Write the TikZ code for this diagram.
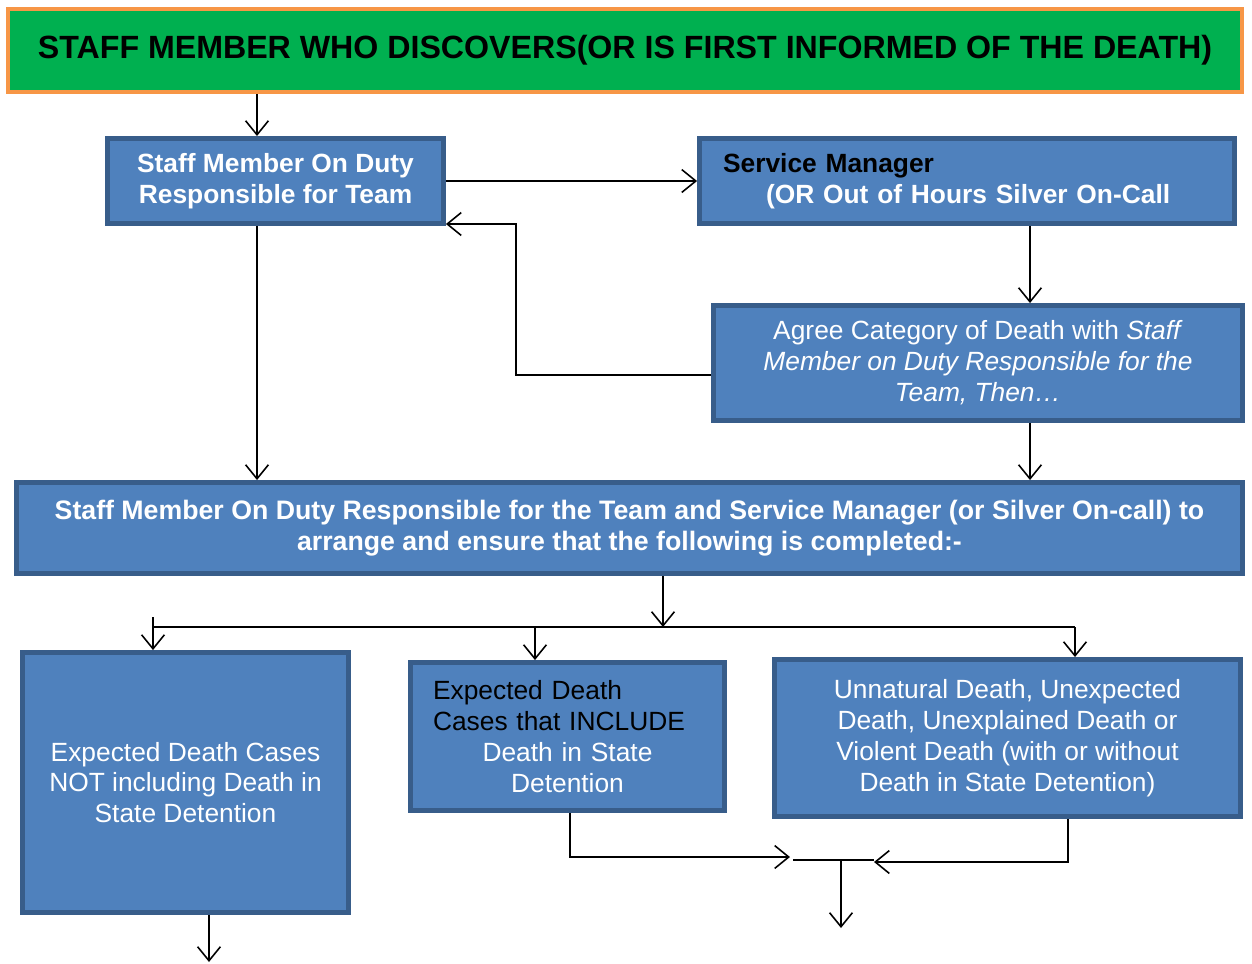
\documentclass[tikz,border=0pt]{standalone}
\usepackage{fontspec}
\setmainfont{Liberation Sans}
\usetikzlibrary{arrows.meta}
\definecolor{boxblue}{HTML}{4F81BD}
\definecolor{boxedge}{HTML}{385D8A}
\definecolor{headgreen}{HTML}{00B050}
\definecolor{headedge}{HTML}{F79646}
\tikzstyle{headbox} = [rectangle, draw=headedge, line width=2.3pt, fill=headgreen, text=black, font=\fontsize{18.3}{22}\selectfont\bfseries]
\tikzstyle{bluebox} = [rectangle, draw=boxedge, line width=2.8pt, fill=boxblue, text=white, align=center, font=\fontsize{15}{17.6}\selectfont]
\tikzstyle{boldbox} = [bluebox, font=\fontsize{15}{17.6}\selectfont\bfseries]
\tikzstyle{arrow} = [line width=0.9pt, -{Straight Barb[length=8pt,width=13pt]}]
\tikzstyle{joinline} = [line width=0.9pt]

\begin{document}
\begin{tikzpicture}[x=0.02cm, y=-0.02cm]
\useasboundingbox (0,0) rectangle (1252,964);
\node (head) [headbox, minimum width=24.68cm, minimum height=1.66cm] at (625,50.5) {STAFF MEMBER WHO DISCOVERS(OR IS FIRST INFORMED OF THE DEATH)};
\node (duty) [boldbox, minimum width=6.72cm, minimum height=1.70cm] at (275.5,181) {Staff Member On Duty\\Responsible for Team};
\node (mgr) [boldbox, minimum width=10.7cm, minimum height=1.70cm, text width=9.76cm, align=left] at (967,181) {\textcolor{black}{Service Manager}\\\hspace*{0.86cm}(OR Out of Hours Silver On-Call};
\node (agree) [bluebox, minimum width=10.58cm, minimum height=2.30cm] at (978,363) {Agree Category of Death with \textit{Staff}\\\textit{Member on Duty Responsible for the}\\\textit{Team, Then\ldots}};
\node (both) [boldbox, minimum width=24.52cm, minimum height=1.82cm, font=\fontsize{15.2}{17.8}\selectfont\bfseries] at (629.5,528) {Staff Member On Duty Responsible for the Team and Service Manager (or Silver On-call) to\\arrange and ensure that the following is completed:-};
\node (notsd) [bluebox, minimum width=6.52cm, minimum height=5.20cm] at (185.5,782.5) {Expected Death Cases\\NOT including Death in\\State Detention};
\node (withsd) [bluebox, minimum width=6.28cm, minimum height=2.96cm, text width=5.38cm] at (567.5,736.5) {{\raggedright\color{black}Expected Death\\Cases that INCLUDE\par}{\centering Death in State\\Detention\par}};
\node (unnat) [bluebox, minimum width=9.32cm, minimum height=3.14cm] at (1007.5,738) {Unnatural Death, Unexpected\\Death, Unexplained Death or\\Violent Death (with or without\\Death in State Detention)};

% connector columns and free ends
\coordinate (colA) at (257,0);
\coordinate (colC) at (1030,0);
\coordinate (back) at (516,224);
\coordinate (split) at (663,627);
\coordinate (sl) at (153,627);
\coordinate (sm) at (535,627);
\coordinate (sr) at (1075,627);
\coordinate (fx) at (570,857);
\coordinate (gx) at (1068,862);
\coordinate (jl) at (790,857);
\coordinate (jr) at (874,862);
\coordinate (jm) at (841,860);
\coordinate (jout) at (841,928);
\coordinate (eout) at (209,962);

\draw [arrow] (head.south -| colA) -- (duty.north -| colA);
\draw [arrow] (duty.east) -- (mgr.west);
\draw [arrow] ([yshift=-0.24cm]agree.west) -| (back) -- (back -| duty.east);
\draw [arrow] (mgr.south -| colC) -- (agree.north -| colC);
\draw [arrow] (duty.south -| colA) -- (both.north -| colA);
\draw [arrow] (agree.south -| colC) -- (both.north -| colC);
\draw [arrow] (both.south -| split) -- (split);
\draw [joinline] (sl) -- (sr);
\draw [arrow] ([yshift=0.2cm]sl) -- (notsd.north -| sl);
\draw [arrow] (sm) -- (withsd.north -| sm);
\draw [arrow] (sr) -- (unnat.north -| sr);
\draw [arrow] (withsd.south -| fx) |- (jl);
\draw [arrow] (unnat.south -| gx) |- (jr);
\draw [joinline] ([xshift=0.06cm]jl |- jm) -- (jr |- jm);
\draw [arrow] (jm) -- (jout);
\draw [arrow] (notsd.south -| eout) -- (eout);
\end{tikzpicture}
\end{document}
